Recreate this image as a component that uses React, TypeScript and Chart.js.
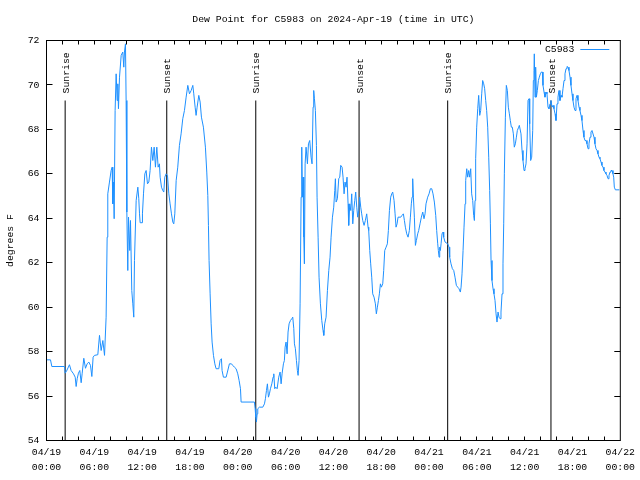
import React, { useEffect, useRef } from "react";
import { Chart, registerables } from "chart.js";

Chart.register(...registerables);

const FONT = "'Liberation Mono', 'DejaVu Sans Mono', monospace";
const FONT_SIZE = 9.8;

const titleText = "Dew Point for C5983 on 2024-Apr-19 (time in UTC)";
const yAxisTitle = "degrees F";
const seriesName = "C5983";
const seriesColor = "rgb(30,144,255)";

// hours since 2024-04-19 00:00 UTC
const hours = [
  0, 0.5, 0.67, 2.26, 2.34, 2.51, 2.88, 3.09, 3.39, 3.6, 3.72, 3.85, 4.01, 4.18, 4.35, 4.47, 4.68, 4.89, 5.1, 5.31,
  5.52, 5.69, 5.85, 6.02, 6.44, 6.65, 6.86, 7.07, 7.28, 7.48, 7.61, 7.69, 7.9, 8.11, 8.24, 8.32, 8.4, 8.49, 8.61, 8.74,
  8.86, 8.95, 9.03, 9.16, 9.37, 9.57, 9.7, 9.78, 9.91, 9.99, 10.08, 10.2, 10.29, 10.45, 10.54, 10.7, 10.83, 10.95, 11.04, 11.25,
  11.46, 11.58, 11.67, 11.75, 12.0, 12.04, 12.17, 12.34, 12.5, 12.67, 12.84, 13.0, 13.17, 13.34, 13.51, 13.67, 13.84, 14.01, 14.17, 14.26,
  14.43, 14.59, 14.72, 14.84, 15.01, 15.18, 15.35, 15.51, 15.68, 15.85, 15.97, 16.1, 16.27, 16.47, 16.68, 16.89, 17.1, 17.31, 17.52, 17.73,
  17.94, 18.15, 18.36, 18.48, 18.65, 18.77, 18.9, 19.11, 19.28, 19.44, 19.69, 19.94, 20.11, 20.24, 20.32, 20.4, 20.53, 20.66, 20.78, 20.95,
  21.12, 21.28, 21.62, 21.78, 21.95, 22.03, 22.2, 22.54, 22.7, 22.95, 23.21, 23.37, 23.58, 23.79, 24.0, 24.17, 24.34, 24.42, 26.09, 26.18,
  26.26, 26.34, 26.43, 26.51, 26.72, 27.14, 27.35, 27.47, 27.6, 27.72, 27.85, 27.97, 28.1, 28.27, 28.43, 28.52, 28.64, 28.77, 28.94, 29.14,
  29.31, 29.44, 29.56, 29.73, 29.85, 29.94, 30.06, 30.19, 30.31, 30.44, 30.61, 30.78, 30.9, 31.03, 31.11, 31.23, 31.36, 31.48, 31.57, 31.69,
  31.82, 31.95, 32.03, 32.11, 32.2, 32.28, 32.36, 32.45, 32.57, 32.74, 32.87, 33.03, 33.2, 33.32, 33.45, 33.53, 33.62, 33.74, 33.87, 33.95,
  34.08, 34.2, 34.37, 34.54, 34.7, 34.79, 34.91, 35.08, 35.25, 35.42, 35.58, 35.71, 35.88, 36.04, 36.17, 36.25, 36.34, 36.5, 36.67, 36.8,
  36.92, 37.09, 37.21, 37.34, 37.46, 37.59, 37.71, 37.84, 37.92, 38.05, 38.18, 38.3, 38.43, 38.55, 38.68, 38.8, 38.93, 39.05, 39.18, 39.3,
  39.43, 39.55, 39.68, 39.85, 40.01, 40.18, 40.35, 40.43, 40.56, 40.68, 40.81, 40.93, 41.1, 41.27, 41.39, 41.52, 41.65, 41.77, 41.9, 42.02,
  42.19, 42.31, 42.44, 42.61, 42.77, 42.9, 43.03, 43.19, 43.32, 43.44, 43.61, 43.74, 43.86, 43.99, 44.11, 44.45, 44.61, 44.78, 44.91, 45.03,
  45.2, 45.37, 45.53, 45.66, 45.78, 45.87, 45.95, 46.04, 46.16, 46.29, 46.41, 46.58, 46.7, 46.87, 47.04, 47.21, 47.37, 47.5, 47.62, 47.83,
  48.0, 48.17, 48.34, 48.5, 48.67, 48.84, 48.96, 49.09, 49.17, 49.26, 49.34, 49.42, 49.51, 49.63, 49.76, 49.84, 50.01, 50.34, 50.51, 50.59,
  50.76, 50.93, 51.1, 51.26, 51.43, 51.6, 51.76, 51.93, 52.02, 52.14, 52.27, 52.39, 52.52, 52.6, 52.73, 52.85, 52.98, 53.1, 53.23, 53.35,
  53.48, 53.6, 53.69, 53.77, 53.85, 53.98, 54.11, 54.23, 54.36, 54.48, 54.61, 54.73, 54.86, 54.98, 55.11, 55.23, 55.36, 55.49, 55.61, 55.7,
  55.78, 55.9, 56.03, 56.15, 56.28, 56.41, 56.53, 56.66, 56.78, 56.91, 57.03, 57.16, 57.28, 57.37, 57.45, 57.58, 57.7, 57.83, 57.95, 58.08,
  58.2, 58.33, 58.45, 58.58, 58.7, 58.83, 58.96, 59.08, 59.25, 59.33, 59.54, 59.67, 59.79, 59.92, 60.04, 60.17, 60.3, 60.42, 60.55, 60.63,
  60.75, 60.88, 61.01, 61.09, 61.17, 61.21, 61.3, 61.38, 61.47, 61.59, 61.72, 61.84, 61.97, 62.09, 62.22, 62.3, 62.43, 62.55, 62.68, 62.8,
  62.93, 63.05, 63.18, 63.3, 63.43, 63.56, 63.68, 63.81, 63.93, 64.06, 64.18, 64.31, 64.43, 64.56, 64.68, 64.81, 64.94, 65.06, 65.19, 65.31,
  65.44, 65.56, 65.69, 65.81, 65.94, 66.06, 66.19, 66.32, 66.44, 66.57, 66.69, 66.82, 66.94, 67.07, 67.19, 67.32, 67.44, 67.57, 67.7, 67.82,
  67.95, 68.07, 68.2, 68.32, 68.45, 68.57, 68.7, 68.82, 68.95, 69.08, 69.2, 69.33, 69.45, 69.58, 69.7, 69.83, 69.95, 70.08, 70.2, 70.33,
  70.46, 70.58, 70.71, 70.83, 70.96, 71.08, 71.17, 71.25, 71.38, 71.88,
];

// dew point, degrees F
const dewPoint = [
  57.63, 57.63, 57.33, 57.33, 57.03, 57.12, 57.41, 57.15, 57.0, 56.85, 56.43, 56.78, 57.03, 57.15, 56.6, 57.0, 57.7, 57.25, 57.45, 57.53,
  57.38, 56.88, 57.75, 57.83, 57.86, 58.73, 58.05, 58.5, 57.83, 59.55, 63.15, 65.1, 65.63, 66.15, 66.3, 64.65, 65.63, 63.98, 68.85, 70.5,
  69.3, 70.05, 68.93, 70.35, 71.33, 71.48, 70.8, 71.48, 71.85, 69.3, 64.28, 61.65, 64.05, 62.55, 63.9, 60.75, 60.15, 59.55, 62.1, 64.8,
  65.4, 64.88, 64.2, 63.8, 63.8, 64.2, 65.1, 66.0, 66.15, 65.55, 65.63, 66.15, 67.2, 66.6, 67.2, 66.3, 67.2, 66.3, 66.45, 65.85,
  65.4, 65.25, 65.18, 65.85, 66.0, 65.93, 65.1, 64.65, 64.2, 63.83, 63.75, 64.2, 65.7, 66.3, 67.28, 67.8, 68.48, 68.85, 69.45, 69.98,
  69.6, 69.75, 69.98, 69.6, 69.0, 68.63, 69.0, 69.53, 69.23, 68.55, 68.1, 67.2, 66.08, 65.03, 63.68, 62.1, 60.6, 59.25, 58.43, 57.83,
  57.45, 57.23, 57.23, 57.6, 57.68, 57.15, 56.85, 56.85, 57.08, 57.45, 57.45, 57.38, 57.3, 57.23, 57.0, 56.7, 56.33, 55.73, 55.73, 55.43,
  55.05, 54.83, 55.2, 55.43, 55.5, 55.5, 55.65, 55.88, 56.25, 56.55, 55.95, 56.1, 56.33, 56.55, 56.85, 57.0, 56.33, 56.4, 56.33, 56.85,
  57.08, 56.55, 57.0, 57.45, 57.6, 58.2, 58.43, 57.9, 58.88, 59.25, 59.4, 59.48, 59.55, 59.03, 58.35, 58.13, 57.6, 57.15, 56.93, 57.6,
  60.15, 64.95, 67.2, 64.95, 65.85, 63.15, 61.95, 66.45, 67.2, 66.45, 67.35, 67.5, 66.75, 66.45, 69.0, 69.75, 69.38, 68.85, 67.28, 64.95,
  63.15, 61.35, 60.15, 59.4, 58.95, 58.73, 59.25, 59.55, 60.75, 61.65, 62.25, 63.15, 64.05, 64.5, 65.25, 65.78, 64.73, 64.88, 65.78, 65.85,
  66.38, 66.3, 65.85, 65.1, 65.63, 65.4, 65.85, 64.65, 63.68, 64.65, 64.35, 65.1, 63.75, 64.35, 64.8, 65.18, 64.5, 64.05, 64.35, 64.95,
  64.5, 64.2, 63.9, 63.68, 63.9, 64.2, 63.6, 63.45, 62.55, 61.95, 61.35, 60.6, 60.45, 60.15, 59.7, 60.0, 60.3, 60.6, 61.05, 60.9,
  61.05, 61.65, 62.55, 62.7, 62.85, 63.45, 64.35, 64.95, 65.1, 65.18, 64.8, 64.2, 63.6, 63.75, 64.05, 64.05, 64.13, 64.2, 63.9, 63.6,
  63.3, 63.15, 63.45, 64.05, 64.65, 64.95, 65.78, 64.95, 64.05, 62.78, 63.0, 63.3, 63.45, 63.75, 64.05, 64.28, 63.98, 64.2, 64.65, 64.95,
  65.1, 65.33, 65.33, 65.1, 64.73, 64.13, 63.45, 62.85, 62.55, 62.25, 62.7, 62.55, 62.85, 63.3, 63.38, 63.15, 62.93, 62.85, 62.7, 62.25,
  61.95, 61.73, 61.65, 61.35, 60.98, 60.9, 60.83, 60.68, 60.9, 61.5, 62.55, 63.6, 64.65, 65.7, 66.23, 65.85, 66.15, 65.85, 66.23, 65.1,
  64.8, 64.13, 63.9, 64.8, 66.68, 68.1, 68.93, 69.53, 68.63, 68.85, 69.6, 70.2, 70.05, 69.83, 69.3, 68.85, 68.1, 66.75, 65.25, 63.75,
  62.1, 61.2, 60.83, 60.6, 60.3, 59.7, 59.33, 59.78, 59.55, 59.48, 59.78, 60.6, 61.95, 63.75, 66.0, 68.55, 69.98, 69.75, 69.0, 68.7,
  68.4, 68.1, 68.1, 67.8, 67.2, 67.35, 67.65, 67.95, 68.1, 68.18, 67.8, 67.05, 66.6, 66.15, 66.23, 66.45, 67.35, 69.3, 69.38, 68.25,
  66.6, 66.75, 67.95, 70.2, 70.65, 71.4, 69.45, 70.8, 69.45, 69.75, 70.2, 70.35, 70.5, 70.58, 70.58, 69.98, 69.68, 69.45, 69.68, 69.6,
  69.0, 68.93, 69.15, 69.3, 69.0, 69.08, 68.93, 68.7, 68.4, 69.15, 69.45, 69.75, 69.3, 69.53, 69.45, 69.83, 70.2, 70.5, 70.73, 70.83,
  70.8, 70.65, 70.35, 69.98, 69.6, 69.3, 69.0, 68.85, 69.38, 69.53, 69.3, 69.0, 68.85, 68.63, 68.4, 67.95, 67.65, 67.5, 67.5, 67.35,
  67.13, 67.35, 67.65, 67.88, 67.95, 67.95, 67.65, 67.35, 67.13, 67.05, 66.9, 66.75, 66.68, 66.53, 66.38, 66.3, 66.15, 66.08, 66.0, 65.93,
  65.78, 65.93, 66.08, 66.15, 66.15, 66.0, 65.85, 65.4, 65.28, 65.28,
];

const sunEventHours = [2.34, 15.09, 26.26, 39.22, 50.34, 63.3];
const sunEventLabels = ["Sunrise", "Sunset", "Sunrise", "Sunset", "Sunrise", "Sunset"];
const sunLineTop = 69.3;

const xTickHours = [0, 6, 12, 18, 24, 30, 36, 42, 48, 54, 60, 66, 72];
const xTickDates = ["04/19", "04/19", "04/19", "04/19", "04/20", "04/20", "04/20", "04/20", "04/21", "04/21", "04/21", "04/21", "04/22"];
const xTickTimes = ["00:00", "06:00", "12:00", "18:00", "00:00", "06:00", "12:00", "18:00", "00:00", "06:00", "12:00", "18:00", "00:00"];
const yTicks = [54, 56, 58, 60, 62, 64, 66, 68, 70, 72];

export default function App() {
  const ref = useRef<HTMLCanvasElement>(null);

  useEffect(() => {
    const canvas = ref.current;
    if (!canvas) return;

    const framePlugin = {
      id: "gnuplotFrame",
      afterDatasetsDraw(chart: any) {
        const { ctx, chartArea: a, scales } = chart;
        const font = `${FONT_SIZE}px ${FONT}`;
        ctx.save();
        ctx.strokeStyle = "#000";
        ctx.lineWidth = 1;
        ctx.strokeRect(a.left, a.top, a.right - a.left, a.bottom - a.top);
        ctx.beginPath();
        for (let h = 2; h < 72; h += 2) {
          const x = Math.floor(scales.x.getPixelForValue(h)) + 0.5;
          ctx.moveTo(x, a.bottom);
          ctx.lineTo(x, a.bottom - 4);
          ctx.moveTo(x, a.top);
          ctx.lineTo(x, a.top + 4);
        }
        for (const v of yTicks) {
          const y = Math.floor(scales.y.getPixelForValue(v)) + 0.5;
          ctx.moveTo(a.left, y);
          ctx.lineTo(a.left + 6, y);
          ctx.moveTo(a.right, y);
          ctx.lineTo(a.right - 6, y);
        }
        ctx.stroke();

        ctx.fillStyle = "#000";
        ctx.font = font;
        sunEventHours.forEach((h, i) => {
          const x = scales.x.getPixelForValue(h) + 1;
          const y = scales.y.getPixelForValue(sunLineTop) - 7;
          ctx.save();
          ctx.translate(x, y);
          ctx.rotate(-Math.PI / 2);
          ctx.textAlign = "left";
          ctx.textBaseline = "middle";
          ctx.fillText(sunEventLabels[i], 0, 0);
          ctx.restore();
        });

        // key
        ctx.textAlign = "right";
        ctx.textBaseline = "middle";
        ctx.fillText(seriesName, a.right - 46, a.top + 9);
        ctx.strokeStyle = seriesColor;
        ctx.beginPath();
        ctx.moveTo(a.right - 40, a.top + 9);
        ctx.lineTo(a.right - 11, a.top + 9);
        ctx.stroke();
        ctx.restore();
      },
    };

    const sunDatasets = sunEventHours.map((h, i) => ({
      label: sunEventLabels[i],
      data: [
        { x: h, y: 54 },
        { x: h, y: sunLineTop },
      ],
      borderColor: "#000",
      borderWidth: 1,
      pointRadius: 0,
      fill: false,
      tension: 0,
    }));

    const chart = new Chart(canvas, {
      type: "line",
      data: {
        datasets: [
          {
            label: seriesName,
            data: hours.map((h, i) => ({ x: h, y: dewPoint[i] })),
            borderColor: seriesColor,
            borderWidth: 1,
            pointRadius: 0,
            fill: false,
            tension: 0,
          },
          ...sunDatasets,
        ],
      },
      options: {
        responsive: false,
        animation: false,
        devicePixelRatio: 1,
        events: [],
        layout: { padding: { left: 0, right: 18.5, top: 0, bottom: 0 } },
        plugins: {
          legend: { display: false },
          tooltip: { enabled: false },
          title: {
            display: true,
            text: titleText,
            fullSize: false,
            color: "#000",
            font: { family: FONT, size: FONT_SIZE, weight: "normal", lineHeight: 1.2 },
            padding: { top: 13.6, bottom: 15.14 },
          },
        },
        scales: {
          x: {
            type: "linear",
            min: 0,
            max: 72,
            afterFit: (s: any) => {
              s.height = 39.5;
            },
            afterBuildTicks: (s: any) => {
              s.ticks = xTickHours.map((v) => ({ value: v }));
            },
            grid: { display: false, drawTicks: false },
            border: { display: false },
            ticks: {
              autoSkip: false,
              maxRotation: 0,
              minRotation: 0,
              padding: 5,
              color: "#000",
              font: { family: FONT, size: FONT_SIZE, lineHeight: 1.5 },
              callback: (v: any) => {
                const i = xTickHours.indexOf(Number(v));
                return i >= 0 ? [xTickDates[i], xTickTimes[i]] : "";
              },
            },
          },
          y: {
            type: "linear",
            min: 54,
            max: 72,
            afterFit: (s: any) => {
              s.width = 46.5;
            },
            afterBuildTicks: (s: any) => {
              s.ticks = yTicks.map((v) => ({ value: v }));
            },
            grid: { display: false, drawTicks: false },
            border: { display: false },
            ticks: {
              padding: 7,
              color: "#000",
              font: { family: FONT, size: FONT_SIZE, lineHeight: 1.2 },
              callback: (v: any) => String(v),
            },
            title: {
              display: true,
              text: yAxisTitle,
              color: "#000",
              font: { family: FONT, size: FONT_SIZE, lineHeight: 1.2 },
              padding: { top: 4.1, bottom: 0 },
            },
          },
        },
      },
      plugins: [framePlugin],
    });

    return () => chart.destroy();
  }, []);

  return (
    <div style={{ position: "absolute", left: 0, top: 0, width: 640, height: 480, background: "#fff" }}>
      <canvas ref={ref} width={640} height={480} style={{ display: "block", width: 640, height: 480 }} />
    </div>
  );
}
